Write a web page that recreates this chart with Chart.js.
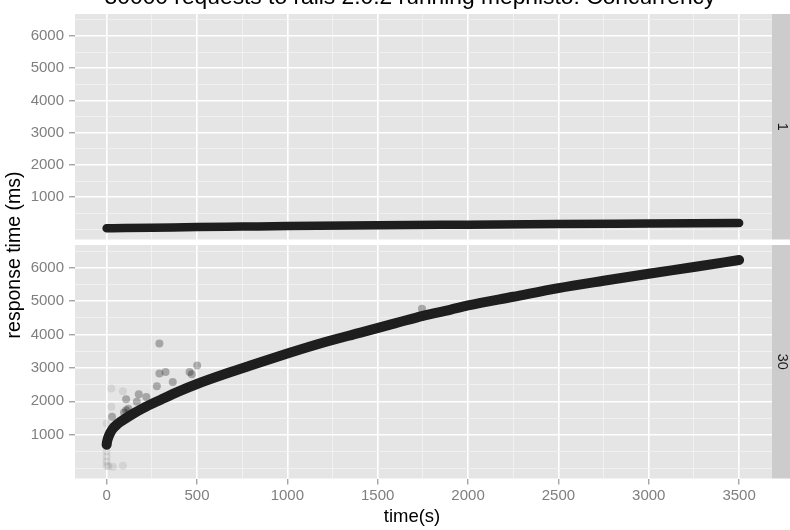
<!DOCTYPE html>
<html><head><meta charset="utf-8">
<script src="https://cdn.jsdelivr.net/npm/chart.js@4"></script>
<style>
html,body{margin:0;padding:0;background:#fff;}
#wrap{position:relative;width:790px;height:530px;overflow:hidden;background:#fff;}
canvas{position:absolute;left:0;top:0;}
</style></head><body>
<div id="wrap"><canvas id="panelTop" width="790" height="530"></canvas><canvas id="panelBottom" width="790" height="530"></canvas></div>
<script>
const chartTitle = '30000 requests to rails 2.0.2 running mephisto: Concurrency';
const xAxisTitle = 'time(s)';
const yAxisTitle = 'response time (ms)';
const facetLabels = ['1', '30'];
const xTickValues = [0,250,500,750,1000,1250,1500,1750,2000,2250,2500,2750,3000,3250,3500];
const yTickValues = [0,500,1000,1500,2000,2500,3000,3500,4000,4500,5000,5500,6000,6500];

// concurrency 1
const conc1Time = [0, 100, 250, 500, 750, 1000, 1500, 2000, 2500, 3000, 3500];
const conc1Resp = [40, 45, 55, 75, 90, 105, 130, 150, 170, 185, 200];

// concurrency 30 (main band)
const conc30Time = [0, 2, 5, 15, 30, 60, 100, 150, 200, 300, 400, 500, 650, 800, 1000, 1200, 1400, 1600, 1750, 1900, 2000, 2250, 2500, 2750, 3000, 3250, 3500];
const conc30Resp = [700, 780, 850, 1000, 1150, 1320, 1470, 1640, 1790, 2050, 2300, 2520, 2810, 3080, 3430, 3760, 4050, 4340, 4560, 4740, 4870, 5130, 5390, 5610, 5820, 6020, 6230];

// concurrency 30 scattered outliers
const conc30OutlierTime = [292, 292, 326, 278, 366, 459, 471, 501, 108, 108, 120, 178, 167, 220, 30, 96, 1745];
const conc30OutlierResp = [3729, 2832, 2880, 2453, 2581, 2880, 2811, 3074, 2065, 1736, 1780, 2214, 1984, 2133, 1536, 1667, 4775];
const conc30FaintTime = [0, 0, 35, 90, 26, 26, 90, 0, 0, 0, 10];
const conc30FaintResp = [340, 72, 42, 72, 1835, 2385, 2300, 1340, 500, 200, 60];

const FONT = '"Liberation Sans", Arial, Helvetica, sans-serif';
Chart.defaults.font.family = FONT;

const pairs = (xs, ys) => xs.map((x, i) => ({x: x, y: ys[i]}));
const Y_MIN = -310, Y_MAX = 6680, X_MIN = -175, X_MAX = 3682;

function xMajor(v) { return v % 500 === 0; }
function yMajor(v) { return v % 1000 === 0 && v !== 0; }

function panelPlugin(facet, isBottom) {
  return {
    id: 'panel' + facet,
    beforeDraw(chart) {
      const {ctx, chartArea: a} = chart;
      ctx.save();
      ctx.fillStyle = '#E5E5E5';
      ctx.fillRect(a.left, a.top, a.right - a.left, a.bottom - a.top);
      ctx.fillStyle = '#CCCCCC';
      ctx.fillRect(a.right, a.top, 30, a.bottom - a.top);
      ctx.restore();
    },
    afterDraw(chart) {
      const {ctx, chartArea: a} = chart;
      ctx.save();
      ctx.fillStyle = '#1A1A1A';
      ctx.font = '14.4px ' + FONT;
      ctx.textAlign = 'center';
      ctx.textBaseline = 'middle';
      ctx.translate(a.right + 10, (a.top + a.bottom) / 2);
      ctx.rotate(Math.PI / 2);
      ctx.fillText(facetLabels[facet], 0, 0);
      ctx.restore();
      if (isBottom) {
        ctx.save();
        ctx.fillStyle = '#000';
        ctx.font = '18.5px ' + FONT;
        ctx.textAlign = 'center';
        ctx.textBaseline = 'middle';
        ctx.fillText(xAxisTitle, 412, 517);
        ctx.font = '19.5px ' + FONT;
        ctx.translate(15, 255);
        ctx.rotate(-Math.PI / 2);
        ctx.fillText(yAxisTitle, 0, 0);
        ctx.restore();
      } else {
        ctx.save();
        ctx.fillStyle = '#000';
        ctx.font = '22.8px ' + FONT;
        ctx.textAlign = 'center';
        ctx.textBaseline = 'alphabetic';
        ctx.fillText(chartTitle, 410, 4);
        ctx.restore();
      }
    }
  };
}

function datasetsFor(facet) {
  const ds = [];
  if (facet === 1) {
    ds.push({data: pairs(conc30FaintTime, conc30FaintResp), pointRadius: 4, pointBorderWidth: 0,
      pointBackgroundColor: 'rgba(0,0,0,0.08)', showLine: false, order: 5});
    ds.push({data: pairs(conc30OutlierTime, conc30OutlierResp), pointRadius: 4, pointBorderWidth: 0,
      pointBackgroundColor: 'rgba(0,0,0,0.28)', showLine: false, order: 4});
  }
  const t = facet === 0 ? conc1Time : conc30Time;
  const r = facet === 0 ? conc1Resp : conc30Resp;
  const core = facet === 0 ? 8.5 : 10;
  ds.push({data: pairs(t, r), showLine: true, pointRadius: 0, borderWidth: core,
    borderColor: 'rgb(30,30,30)', borderCapStyle: 'round', borderJoinStyle: 'round',
    cubicInterpolationMode: 'monotone', order: 1});
  return ds;
}

function makeChart(id, facet, isBottom) {
  return new Chart(document.getElementById(id), {
    type: 'scatter',
    data: {datasets: datasetsFor(facet)},
    options: {
      responsive: false,
      animation: false,
      devicePixelRatio: 1,
      layout: {padding: isBottom ? {top: 245, right: 18, left: 0, bottom: 0} : {top: 5, right: 18, left: 0, bottom: 290.5}},
      plugins: {legend: {display: false}, tooltip: {enabled: false}},
      scales: {
        x: {
          type: 'linear', min: X_MIN, max: X_MAX,
          afterBuildTicks: s => { s.ticks = xTickValues.map(v => ({value: v})); },
          afterFit: s => { s.height = isBottom ? 51.5 : 0; },
          border: {display: false},
          grid: {
            drawTicks: isBottom, tickLength: 6,
            color: c => (c.tick && xMajor(c.tick.value)) ? '#FFFFFF' : '#F2F2F2',
            lineWidth: c => (c.tick && xMajor(c.tick.value)) ? 1.6 : 0.9,
            tickColor: c => (c.tick && xMajor(c.tick.value)) ? '#7F7F7F' : 'rgba(0,0,0,0)',
            tickWidth: 1
          },
          ticks: {
            display: isBottom, autoSkip: false, maxRotation: 0, padding: 2,
            color: '#7F7F7F', font: {size: 15, family: FONT},
            callback: v => xMajor(v) ? String(v) : ''
          }
        },
        y: {
          type: 'linear', min: Y_MIN, max: Y_MAX,
          afterBuildTicks: s => { s.ticks = yTickValues.map(v => ({value: v})); },
          afterFit: s => { s.width = 75; },
          border: {display: false},
          grid: {
            drawTicks: true, tickLength: 6,
            color: c => (c.tick && yMajor(c.tick.value)) ? '#FFFFFF' : '#F2F2F2',
            lineWidth: c => (c.tick && yMajor(c.tick.value)) ? 1.6 : 0.9,
            tickColor: c => (c.tick && yMajor(c.tick.value)) ? '#7F7F7F' : 'rgba(0,0,0,0)',
            tickWidth: 1
          },
          ticks: {
            autoSkip: false, padding: 5,
            color: '#7F7F7F', font: {size: 15, family: FONT},
            callback: v => yMajor(v) ? String(v) : ''
          }
        }
      }
    },
    plugins: [panelPlugin(facet, isBottom)]
  });
}

makeChart('panelTop', 0, false);
makeChart('panelBottom', 1, true);
</script>
</body></html>
